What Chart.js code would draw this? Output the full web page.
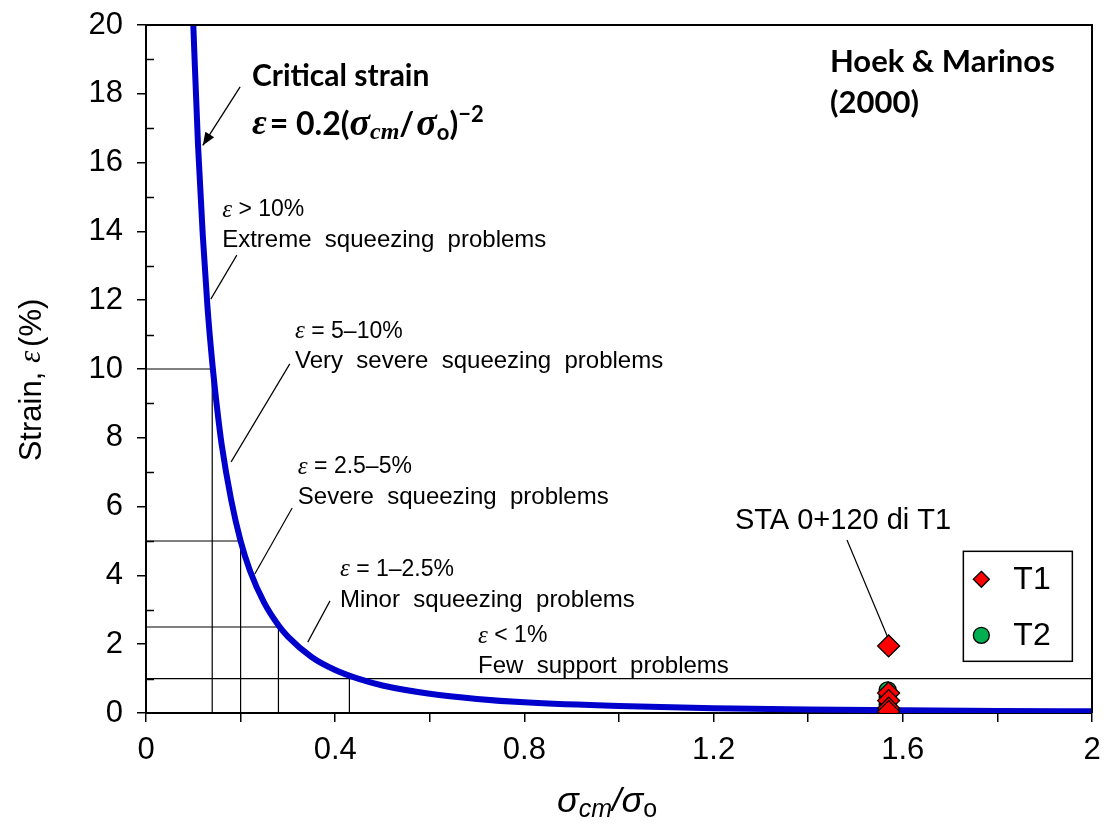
<!DOCTYPE html>
<html>
<head>
<meta charset="utf-8">
<script src="https://cdn.jsdelivr.net/npm/chart.js@4"></script>
<style>
  html, body { margin: 0; padding: 0; background: #fff; }
  #wrap { width: 1109px; height: 828px; }
</style>
</head>
<body>
<div id="wrap"><canvas id="strain-chart"></canvas></div>
<script>
// critical strain curve
const curveRatio = [0.1, 0.11, 0.12, 0.13, 0.14, 0.15, 0.16, 0.18, 0.2, 0.22, 0.25, 0.28, 0.3, 0.35, 0.4, 0.45, 0.5, 0.6, 0.7, 0.8, 1.0, 1.2, 1.4, 1.6, 1.8, 2.0];
const curveStrain = [20, 16.5, 13.9, 11.8, 10.2, 8.9, 7.8, 6.2, 5.0, 4.13, 3.2, 2.55, 2.22, 1.63, 1.25, 0.99, 0.8, 0.56, 0.41, 0.31, 0.2, 0.14, 0.1, 0.08, 0.06, 0.05];

// class boundaries
const levelStrain = [10, 5, 2.5, 1];
const levelRatio = [0.14, 0.2, 0.28, 0.43];

// measured points
const t1Ratio = [1.57, 1.57, 1.57, 1.57, 1.57];
const t1Strain = [1.95, 0.58, 0.36, 0.14, 0.04];
const t2Ratio = [1.568, 1.568, 1.568, 1.568];
const t2Strain = [0.66, 0.46, 0.25, 0.08];

const xTickLabels = [0, 0.4, 0.8, 1.2, 1.6, 2];
const yTickLabels = [0, 2, 4, 6, 8, 10, 12, 14, 16, 18, 20];

const pts = (xs, ys) => xs.map((x, i) => ({ x, y: ys[i] }));

const refSets = levelStrain.map((lv, i) => {
    const last = i === levelStrain.length - 1;
    const data = last
        ? [{ x: 0, y: lv }, { x: 2, y: lv }, { x: NaN, y: NaN }, { x: levelRatio[i], y: lv }, { x: levelRatio[i], y: 0 }]
        : [{ x: 0, y: lv }, { x: levelRatio[i], y: lv }, { x: levelRatio[i], y: 0 }];
    return {
        type: 'line',
        data,
        borderColor: '#000',
        borderWidth: 1.2,
        pointRadius: 0,
        spanGaps: false,
        order: 3,
    };
});

const SANS = '"Liberation Sans", Arial, sans-serif';
const SERIF = '"Liberation Serif", "Times New Roman", serif';
const BOLD = 'Lato, "Liberation Sans", sans-serif';

function drawRich(ctx, x, y, parts) {
    let cx = x;
    parts.forEach((p) => {
        ctx.font = p.font;
        ctx.fillText(p.t, cx, y + (p.dy || 0));
        cx += ctx.measureText(p.t).width + (p.gap || 0);
    });
    return cx - x;
}

function richWidth(ctx, parts) {
    let w = 0;
    parts.forEach((p) => {
        ctx.font = p.font;
        w += ctx.measureText(p.t).width + (p.gap || 0);
    });
    return w;
}

const notes = [
    { x: 0.161, y: 14.62, head: ' > 10%', body: 'Extreme  squeezing  problems', lead: [0.192, 13.31, 0.137, 12.03] },
    { x: 0.315, y: 11.10, head: ' = 5\u201310%', body: 'Very  severe  squeezing  problems', lead: [0.304, 10.15, 0.180, 7.30] },
    { x: 0.321, y: 7.15, head: ' = 2.5\u20135%', body: 'Severe  squeezing  problems', lead: [0.309, 5.96, 0.230, 4.04] },
    { x: 0.410, y: 4.16, head: ' = 1\u20132.5%', body: 'Minor  squeezing  problems', lead: [0.389, 3.26, 0.342, 2.06] },
    { x: 0.702, y: 2.24, head: ' < 1%', body: 'Few  support  problems', lead: null },
];

const decor = {
    id: 'decor',
    beforeDatasetsDraw(chart) {
        const { ctx, chartArea: a, scales: { y } } = chart;
        ctx.save();
        // minor y ticks inside the frame
        ctx.strokeStyle = '#000';
        ctx.lineWidth = 1.5;
        for (let v = 1; v < 20; v += 2) {
            const py = Math.round(y.getPixelForValue(v)) + 0.5;
            ctx.beginPath();
            ctx.moveTo(a.left, py);
            ctx.lineTo(a.left + 8, py);
            ctx.stroke();
        }
        ctx.restore();
    },
    afterDraw(chart) {
        const { ctx, chartArea: a, scales: { x, y } } = chart;
        const X = (v) => x.getPixelForValue(v);
        const Y = (v) => y.getPixelForValue(v);
        ctx.save();

        // frame top/right
        ctx.strokeStyle = '#000';
        ctx.lineWidth = 2;
        ctx.beginPath();
        ctx.moveTo(a.left, a.top);
        ctx.lineTo(a.right, a.top);
        ctx.lineTo(a.right, a.bottom);
        ctx.stroke();

        ctx.fillStyle = '#000';
        ctx.textBaseline = 'middle';
        ctx.textAlign = 'left';

        // class notes
        notes.forEach((n) => {
            const px = X(n.x);
            drawRich(ctx, px, Y(n.y), [
                { t: '\u03b5', font: `italic 25px ${SERIF}` },
                { t: n.head, font: `23px ${SANS}` },
            ]);
            ctx.font = `24px ${SANS}`;
            ctx.fillText(n.body, px, Y(n.y) + 30);
            if (n.lead) {
                ctx.lineWidth = 1.2;
                ctx.beginPath();
                ctx.moveTo(X(n.lead[0]), Y(n.lead[1]));
                ctx.lineTo(X(n.lead[2]), Y(n.lead[3]));
                ctx.stroke();
            }
        });

        // critical strain title
        ctx.font = `bold 30px ${BOLD}`;
        ctx.fillText('Critical strain', X(0.224), Y(18.52));
        drawRich(ctx, X(0.224), Y(17.1), [
            { t: '\u03b5', font: `italic bold 36px ${SERIF}`, gap: 3 },
            { t: '= 0.2(', font: `bold 32px ${BOLD}` },
            { t: '\u03c3', font: `italic bold 38px ${SERIF}` },
            { t: 'cm', font: `italic bold 24px ${SERIF}`, dy: 8 },
            { t: '/', font: `bold 32px ${BOLD}`, gap: 2 },
            { t: '\u03c3', font: `italic bold 38px ${SERIF}` },
            { t: 'o', font: `bold 22px ${BOLD}`, dy: 8 },
            { t: ')', font: `bold 32px ${BOLD}` },
            { t: '\u22122', font: `bold 22px ${BOLD}`, dy: -10 },
        ]);
        // arrow to the curve
        const ax0 = X(0.199), ay0 = Y(18.2), ax1 = X(0.120), ay1 = Y(16.5);
        ctx.lineWidth = 1.3;
        ctx.beginPath();
        ctx.moveTo(ax0, ay0);
        ctx.lineTo(ax1, ay1);
        ctx.stroke();
        const ang = Math.atan2(ay1 - ay0, ax1 - ax0);
        ctx.beginPath();
        ctx.moveTo(ax1, ay1);
        ctx.lineTo(ax1 - 14 * Math.cos(ang - 0.38), ay1 - 14 * Math.sin(ang - 0.38));
        ctx.lineTo(ax1 - 14 * Math.cos(ang + 0.38), ay1 - 14 * Math.sin(ang + 0.38));
        ctx.closePath();
        ctx.fill();

        // source
        ctx.font = `bold 31px ${BOLD}`;
        ctx.fillText('Hoek & Marinos', X(1.446), Y(18.92));
        ctx.fillText('(2000)', X(1.446), Y(17.73));

        // station label
        ctx.font = `29px ${SANS}`;
        ctx.fillText('STA 0+120 di T1', X(1.245), Y(5.58));
        ctx.lineWidth = 1.2;
        ctx.beginPath();
        ctx.moveTo(X(1.482), Y(5.03));
        ctx.lineTo(X(1.567), Y(2.24));
        ctx.stroke();

        // legend box
        const lx = X(1.728), ly = Y(4.7), lw = 109, lh = 110;
        ctx.fillStyle = '#fff';
        ctx.fillRect(lx, ly, lw, lh);
        ctx.strokeStyle = '#000';
        ctx.lineWidth = 1.5;
        ctx.strokeRect(lx, ly, lw, lh);
        const dx = lx + 18, d1 = ly + 28, r = 8;
        ctx.beginPath();
        ctx.moveTo(dx, d1 - r); ctx.lineTo(dx + r, d1); ctx.lineTo(dx, d1 + r); ctx.lineTo(dx - r, d1); ctx.closePath();
        ctx.fillStyle = '#ff0000'; ctx.fill(); ctx.lineWidth = 1.3; ctx.stroke();
        const d2 = ly + 84;
        ctx.beginPath();
        ctx.arc(dx, d2, 8, 0, Math.PI * 2);
        ctx.fillStyle = '#00b050'; ctx.fill(); ctx.stroke();
        ctx.fillStyle = '#000';
        ctx.font = `32px ${SANS}`;
        ctx.fillText('T1', lx + 50, d1 + 1);
        ctx.fillText('T2', lx + 50, d2 + 1);

        // axis titles
        const xt = [
            { t: '\u03c3', font: `italic 36px ${SANS}` },
            { t: 'cm', font: `italic 25px ${SANS}`, dy: 8 },
            { t: '/', font: `italic 34px ${SANS}` },
            { t: '\u03c3', font: `italic 36px ${SANS}` },
            { t: 'o', font: `25px ${SANS}`, dy: 8 },
        ];
        const xw = richWidth(ctx, xt);
        drawRich(ctx, 607 - xw / 2, 802, xt);

        ctx.translate(32, 380);
        ctx.rotate(-Math.PI / 2);
        const yt = [
            { t: 'Strain, ', font: `31px ${SANS}` },
            { t: '\u03b5', font: `italic 31px ${SERIF}`, gap: 4 },
            { t: '(%)', font: `31px ${SANS}` },
        ];
        const yw = richWidth(ctx, yt);
        drawRich(ctx, -yw / 2, 0, yt);
        ctx.restore();
    },
};

new Chart(document.getElementById('strain-chart'), {
    type: 'scatter',
    data: {
        datasets: [
            {
                label: 'T1',
                data: pts(t1Ratio, t1Strain),
                pointStyle: 'rectRot',
                pointRadius: 11,
                backgroundColor: '#ff0000',
                borderColor: '#000',
                borderWidth: 1.3,
                order: 0,
            },
            {
                label: 'T2',
                data: pts(t2Ratio, t2Strain),
                pointStyle: 'circle',
                pointRadius: 8.5,
                backgroundColor: '#00b050',
                borderColor: '#000',
                borderWidth: 1.3,
                order: 1,
            },
            {
                type: 'line',
                label: 'Critical strain',
                data: pts(curveRatio, curveStrain),
                borderColor: '#0000cc',
                borderWidth: 6,
                pointRadius: 0,
                cubicInterpolationMode: 'monotone',
                order: 2,
            },
            ...refSets,
        ],
    },
    options: {
        responsive: true,
        maintainAspectRatio: false,
        animation: false,
        layout: { padding: { top: 25, right: 17, left: 0, bottom: 0 } },
        plugins: {
            legend: { display: false },
            tooltip: { enabled: false },
        },
        scales: {
            x: {
                type: 'linear',
                min: 0,
                max: 2,
                afterFit: (s) => { s.height = 115; s.paddingLeft = 0; s.paddingRight = 0; },
                afterBuildTicks: (s) => { s.ticks = [0, 0.2, 0.4, 0.6, 0.8, 1, 1.2, 1.4, 1.6, 1.8, 2].map((v) => ({ value: v })); },
                ticks: {
                    color: '#000',
                    padding: 10,
                    font: { family: SANS, size: 31 },
                    callback: (v) => (xTickLabels.some((t) => Math.abs(t - v) < 1e-6) ? String(Math.round(v * 10) / 10) : ''),
                },
                grid: { drawOnChartArea: false, tickLength: 9, color: '#000', lineWidth: 1.5 },
                border: { color: '#000', width: 2 },
            },
            y: {
                type: 'linear',
                min: 0,
                max: 20,
                afterFit: (s) => { s.width = 146; s.paddingTop = 0; s.paddingBottom = 0; },
                afterBuildTicks: (s) => { s.ticks = yTickLabels.map((v) => ({ value: v })); },
                ticks: {
                    color: '#000',
                    padding: 14,
                    font: { family: SANS, size: 31 },
                },
                grid: { drawOnChartArea: false, tickLength: 9, color: '#000', lineWidth: 1.5 },
                border: { color: '#000', width: 2 },
            },
        },
    },
    plugins: [decor],
});
</script>
</body>
</html>
